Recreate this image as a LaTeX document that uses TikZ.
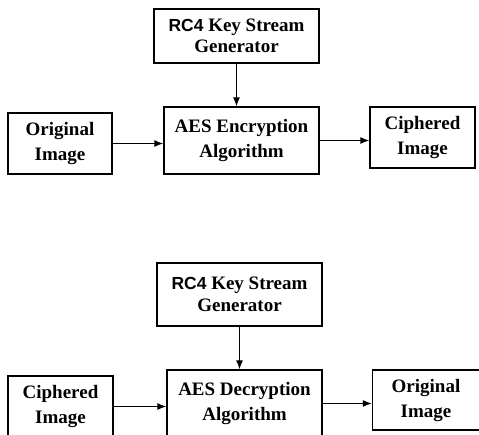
\documentclass[tikz,border=0pt]{standalone}
\usepackage{fontspec}
\setmainfont{Liberation Serif}
\newfontfamily\rcfont{Liberation Sans}
\usetikzlibrary{arrows.meta}
\def\rcfour{{\rcfont\bfseries\fontsize{17.5}{21}\selectfont RC4}}
\tikzset{
	blockbox/.style={draw, line width=1.3pt, align=center, inner sep=0pt,
		font=\bfseries\fontsize{19}{25}\selectfont},
	keybox/.style={blockbox, font=\bfseries\fontsize{19}{21.5}\selectfont},
	flowarrow/.style={line width=1.2pt, -{Latex[length=9pt,width=7pt]}}
}

\begin{document}
\begin{tikzpicture}[x=1pt, y=-1pt]
			%%%%% START %%%%%
			\useasboundingbox (0, 0) rectangle (479, 434);
			\clip (0, 0) rectangle (479, 434);
			
			% encryption
			\node[keybox, minimum width=165, minimum height=54] (rcenc) at (236.5, 36) {\rcfour{} Key Stream\\Generator};
			\node[blockbox, minimum width=155, minimum height=67] (enc) at (241.5, 140.5) {AES Encryption\\Algorithm};
			\node[blockbox, minimum width=104, minimum height=61] (origin) at (60, 143.5) {Original\\Image};
			\node[blockbox, minimum width=105, minimum height=61] (cipher) at (422.5, 137.5) {Ciphered\\Image};
			
			\draw[flowarrow] (rcenc.south) -- (rcenc.south |- enc.north);
			\draw[flowarrow] (origin.east) -- (origin.east -| enc.west);
			\draw[flowarrow] (enc.east) -- (enc.east -| cipher.west);
			
			% decryption
			\node[keybox, minimum width=165, minimum height=63] (rcdec) at (239.5, 294.5) {\rcfour{} Key Stream\\Generator};
			\node[blockbox, minimum width=155, minimum height=67] (dec) at (244.5, 403.5) {AES Decryption\\Algorithm};
			\node[blockbox, minimum width=105, minimum height=61] (cipherin) at (60.5, 406.5) {Ciphered\\Image};
			\node[blockbox, minimum width=107, minimum height=60] (originout) at (426, 400) {Original\\Image};
			
			\draw[flowarrow] (rcdec.south) -- (rcdec.south |- dec.north);
			\draw[flowarrow] (cipherin.east) -- (cipherin.east -| dec.west);
			\draw[flowarrow] (dec.east) -- (dec.east -| originout.west);
			%%%%% END %%%%%
\end{tikzpicture}
\end{document}
